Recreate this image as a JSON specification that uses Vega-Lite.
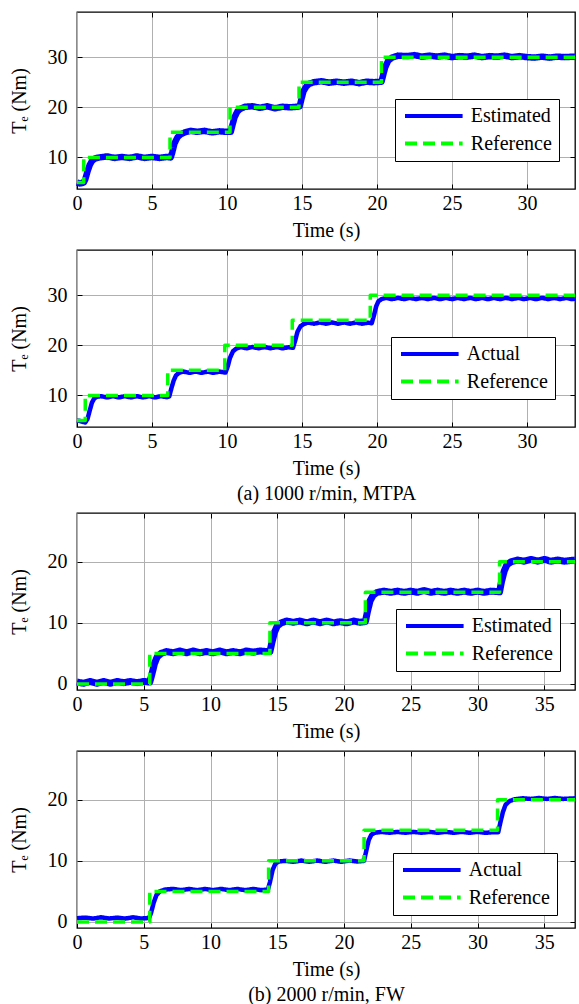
{
"$schema":"https://vega.github.io/schema/vega-lite/v6.json",
"background":"white",
"padding":{"left":8,"top":10,"right":2,"bottom":0},
"datasets":{
"p1":[
{"t":0,"v":5.0,"s":"Estimated"},{"t":0.2,"v":4.8,"s":"Estimated"},{"t":0.45,"v":5.0,"s":"Estimated"},{"t":0.55,"v":5.6,"s":"Estimated"},{"t":0.7,"v":7.2,"s":"Estimated"},{"t":0.85,"v":8.5,"s":"Estimated"},{"t":1.0,"v":9.3,"s":"Estimated"},{"t":1.2,"v":9.8,"s":"Estimated"},{"t":1.5,"v":10.0,"s":"Estimated"},{"t":2.0,"v":10.2,"s":"Estimated"},{"t":2.5,"v":9.9,"s":"Estimated"},{"t":3.0,"v":10.1,"s":"Estimated"},{"t":3.5,"v":9.9,"s":"Estimated"},{"t":4.0,"v":10.2,"s":"Estimated"},{"t":4.5,"v":9.9,"s":"Estimated"},{"t":5.0,"v":10.1,"s":"Estimated"},{"t":5.5,"v":9.9,"s":"Estimated"},{"t":6.0,"v":10.1,"s":"Estimated"},{"t":6.25,"v":10.0,"s":"Estimated"},{"t":6.35,"v":11.0,"s":"Estimated"},{"t":6.5,"v":12.8,"s":"Estimated"},{"t":6.7,"v":14.0,"s":"Estimated"},{"t":6.9,"v":14.6,"s":"Estimated"},{"t":7.2,"v":15.0,"s":"Estimated"},{"t":7.6,"v":15.3,"s":"Estimated"},{"t":8.0,"v":15.1,"s":"Estimated"},{"t":8.5,"v":15.3,"s":"Estimated"},{"t":9.0,"v":15.0,"s":"Estimated"},{"t":9.5,"v":15.2,"s":"Estimated"},{"t":10.0,"v":15.1,"s":"Estimated"},{"t":10.25,"v":15.1,"s":"Estimated"},{"t":10.35,"v":16.3,"s":"Estimated"},{"t":10.5,"v":18.0,"s":"Estimated"},{"t":10.7,"v":19.2,"s":"Estimated"},{"t":10.9,"v":19.7,"s":"Estimated"},{"t":11.2,"v":20.1,"s":"Estimated"},{"t":11.7,"v":20.2,"s":"Estimated"},{"t":12.2,"v":19.9,"s":"Estimated"},{"t":12.7,"v":20.2,"s":"Estimated"},{"t":13.2,"v":19.8,"s":"Estimated"},{"t":13.7,"v":20.1,"s":"Estimated"},{"t":14.2,"v":20.0,"s":"Estimated"},{"t":14.7,"v":20.1,"s":"Estimated"},{"t":14.85,"v":20.2,"s":"Estimated"},{"t":14.95,"v":21.5,"s":"Estimated"},{"t":15.1,"v":23.2,"s":"Estimated"},{"t":15.3,"v":24.2,"s":"Estimated"},{"t":15.5,"v":24.7,"s":"Estimated"},{"t":15.8,"v":25.0,"s":"Estimated"},{"t":16.3,"v":25.2,"s":"Estimated"},{"t":16.8,"v":24.9,"s":"Estimated"},{"t":17.3,"v":25.1,"s":"Estimated"},{"t":17.8,"v":24.9,"s":"Estimated"},{"t":18.3,"v":25.1,"s":"Estimated"},{"t":18.8,"v":24.8,"s":"Estimated"},{"t":19.3,"v":25.1,"s":"Estimated"},{"t":19.8,"v":25.0,"s":"Estimated"},{"t":20.3,"v":25.1,"s":"Estimated"},{"t":20.4,"v":26.3,"s":"Estimated"},{"t":20.55,"v":28.0,"s":"Estimated"},{"t":20.75,"v":29.3,"s":"Estimated"},{"t":21.0,"v":29.9,"s":"Estimated"},{"t":21.4,"v":30.3,"s":"Estimated"},{"t":22.0,"v":30.2,"s":"Estimated"},{"t":22.5,"v":30.4,"s":"Estimated"},{"t":23.0,"v":30.1,"s":"Estimated"},{"t":23.5,"v":30.3,"s":"Estimated"},{"t":24.0,"v":30.1,"s":"Estimated"},{"t":24.5,"v":30.3,"s":"Estimated"},{"t":25.0,"v":30.0,"s":"Estimated"},{"t":25.5,"v":30.2,"s":"Estimated"},{"t":26.0,"v":30.1,"s":"Estimated"},{"t":26.5,"v":30.3,"s":"Estimated"},{"t":27.0,"v":30.0,"s":"Estimated"},{"t":27.5,"v":30.2,"s":"Estimated"},{"t":28.0,"v":30.1,"s":"Estimated"},{"t":28.5,"v":30.3,"s":"Estimated"},{"t":29.0,"v":30.0,"s":"Estimated"},{"t":29.5,"v":30.2,"s":"Estimated"},{"t":30.0,"v":30.0,"s":"Estimated"},{"t":30.5,"v":29.9,"s":"Estimated"},{"t":31.0,"v":30.1,"s":"Estimated"},{"t":31.5,"v":29.9,"s":"Estimated"},{"t":32.0,"v":30.1,"s":"Estimated"},{"t":32.5,"v":30.0,"s":"Estimated"},{"t":33.2,"v":30.1,"s":"Estimated"},
{"t":0,"v":5,"s":"Reference"},{"t":0.45,"v":5,"s":"Reference"},{"t":0.45,"v":10,"s":"Reference"},{"t":6.2,"v":10,"s":"Reference"},{"t":6.2,"v":15,"s":"Reference"},{"t":10.2,"v":15,"s":"Reference"},{"t":10.2,"v":20,"s":"Reference"},{"t":14.8,"v":20,"s":"Reference"},{"t":14.8,"v":25,"s":"Reference"},{"t":20.3,"v":25,"s":"Reference"},{"t":20.3,"v":30,"s":"Reference"},{"t":33.2,"v":30,"s":"Reference"}
],
"p2":[
{"t":0,"v":5.0,"s":"Actual"},{"t":0.2,"v":4.9,"s":"Actual"},{"t":0.4,"v":4.7,"s":"Actual"},{"t":0.55,"v":4.6,"s":"Actual"},{"t":0.7,"v":5.3,"s":"Actual"},{"t":0.85,"v":7.0,"s":"Actual"},{"t":1.0,"v":8.6,"s":"Actual"},{"t":1.15,"v":9.4,"s":"Actual"},{"t":1.3,"v":9.7,"s":"Actual"},{"t":1.6,"v":9.85,"s":"Actual"},{"t":2.0,"v":9.6,"s":"Actual"},{"t":2.4,"v":9.85,"s":"Actual"},{"t":2.8,"v":9.6,"s":"Actual"},{"t":3.2,"v":9.85,"s":"Actual"},{"t":3.6,"v":9.6,"s":"Actual"},{"t":4.0,"v":9.85,"s":"Actual"},{"t":4.4,"v":9.6,"s":"Actual"},{"t":4.8,"v":9.85,"s":"Actual"},{"t":5.2,"v":9.6,"s":"Actual"},{"t":5.6,"v":9.85,"s":"Actual"},{"t":6.0,"v":9.65,"s":"Actual"},{"t":6.15,"v":9.8,"s":"Actual"},{"t":6.3,"v":11.5,"s":"Actual"},{"t":6.45,"v":13.0,"s":"Actual"},{"t":6.6,"v":14.0,"s":"Actual"},{"t":6.8,"v":14.5,"s":"Actual"},{"t":7.1,"v":14.75,"s":"Actual"},{"t":7.5,"v":14.5,"s":"Actual"},{"t":7.9,"v":14.75,"s":"Actual"},{"t":8.3,"v":14.5,"s":"Actual"},{"t":8.7,"v":14.75,"s":"Actual"},{"t":9.1,"v":14.5,"s":"Actual"},{"t":9.5,"v":14.75,"s":"Actual"},{"t":9.9,"v":14.55,"s":"Actual"},{"t":10.05,"v":15.8,"s":"Actual"},{"t":10.2,"v":17.5,"s":"Actual"},{"t":10.4,"v":18.8,"s":"Actual"},{"t":10.6,"v":19.3,"s":"Actual"},{"t":10.9,"v":19.65,"s":"Actual"},{"t":11.3,"v":19.4,"s":"Actual"},{"t":11.7,"v":19.65,"s":"Actual"},{"t":12.1,"v":19.4,"s":"Actual"},{"t":12.5,"v":19.65,"s":"Actual"},{"t":12.9,"v":19.4,"s":"Actual"},{"t":13.3,"v":19.65,"s":"Actual"},{"t":13.7,"v":19.4,"s":"Actual"},{"t":14.1,"v":19.6,"s":"Actual"},{"t":14.4,"v":19.5,"s":"Actual"},{"t":14.55,"v":21.0,"s":"Actual"},{"t":14.7,"v":22.7,"s":"Actual"},{"t":14.9,"v":23.8,"s":"Actual"},{"t":15.1,"v":24.2,"s":"Actual"},{"t":15.4,"v":24.55,"s":"Actual"},{"t":15.8,"v":24.3,"s":"Actual"},{"t":16.2,"v":24.55,"s":"Actual"},{"t":16.6,"v":24.3,"s":"Actual"},{"t":17.0,"v":24.55,"s":"Actual"},{"t":17.4,"v":24.3,"s":"Actual"},{"t":17.8,"v":24.55,"s":"Actual"},{"t":18.2,"v":24.3,"s":"Actual"},{"t":18.6,"v":24.55,"s":"Actual"},{"t":19.0,"v":24.3,"s":"Actual"},{"t":19.4,"v":24.5,"s":"Actual"},{"t":19.65,"v":24.4,"s":"Actual"},{"t":19.8,"v":26.0,"s":"Actual"},{"t":19.95,"v":27.8,"s":"Actual"},{"t":20.1,"v":28.8,"s":"Actual"},{"t":20.3,"v":29.2,"s":"Actual"},{"t":20.6,"v":29.45,"s":"Actual"},{"t":21.0,"v":29.2,"s":"Actual"},{"t":21.4,"v":29.45,"s":"Actual"},{"t":21.8,"v":29.2,"s":"Actual"},{"t":22.2,"v":29.45,"s":"Actual"},{"t":22.6,"v":29.2,"s":"Actual"},{"t":23.0,"v":29.45,"s":"Actual"},{"t":23.4,"v":29.2,"s":"Actual"},{"t":23.8,"v":29.45,"s":"Actual"},{"t":24.2,"v":29.2,"s":"Actual"},{"t":24.6,"v":29.45,"s":"Actual"},{"t":25.0,"v":29.2,"s":"Actual"},{"t":25.4,"v":29.45,"s":"Actual"},{"t":25.8,"v":29.2,"s":"Actual"},{"t":26.2,"v":29.45,"s":"Actual"},{"t":26.6,"v":29.2,"s":"Actual"},{"t":27.0,"v":29.45,"s":"Actual"},{"t":27.4,"v":29.2,"s":"Actual"},{"t":27.8,"v":29.45,"s":"Actual"},{"t":28.2,"v":29.2,"s":"Actual"},{"t":28.6,"v":29.45,"s":"Actual"},{"t":29.0,"v":29.2,"s":"Actual"},{"t":29.4,"v":29.45,"s":"Actual"},{"t":29.8,"v":29.2,"s":"Actual"},{"t":30.2,"v":29.45,"s":"Actual"},{"t":30.6,"v":29.2,"s":"Actual"},{"t":31.0,"v":29.45,"s":"Actual"},{"t":31.4,"v":29.2,"s":"Actual"},{"t":31.8,"v":29.45,"s":"Actual"},{"t":32.2,"v":29.2,"s":"Actual"},{"t":32.6,"v":29.45,"s":"Actual"},{"t":33.0,"v":29.2,"s":"Actual"},{"t":33.2,"v":29.3,"s":"Actual"},
{"t":0,"v":5,"s":"Reference"},{"t":0.55,"v":5,"s":"Reference"},{"t":0.55,"v":10,"s":"Reference"},{"t":6.05,"v":10,"s":"Reference"},{"t":6.05,"v":15,"s":"Reference"},{"t":9.85,"v":15,"s":"Reference"},{"t":9.85,"v":20,"s":"Reference"},{"t":14.35,"v":20,"s":"Reference"},{"t":14.35,"v":25,"s":"Reference"},{"t":19.55,"v":25,"s":"Reference"},{"t":19.55,"v":30,"s":"Reference"},{"t":33.2,"v":30,"s":"Reference"}
],
"p3":[
{"t":0,"v":0.3,"s":"Estimated"},{"t":0.5,"v":0.1,"s":"Estimated"},{"t":1.0,"v":0.4,"s":"Estimated"},{"t":1.5,"v":0.1,"s":"Estimated"},{"t":2.0,"v":0.4,"s":"Estimated"},{"t":2.5,"v":0.1,"s":"Estimated"},{"t":3.0,"v":0.4,"s":"Estimated"},{"t":3.5,"v":0.2,"s":"Estimated"},{"t":4.0,"v":0.4,"s":"Estimated"},{"t":4.5,"v":0.2,"s":"Estimated"},{"t":5.0,"v":0.4,"s":"Estimated"},{"t":5.45,"v":0.3,"s":"Estimated"},{"t":5.6,"v":1.5,"s":"Estimated"},{"t":5.8,"v":3.3,"s":"Estimated"},{"t":6.0,"v":4.4,"s":"Estimated"},{"t":6.3,"v":5.0,"s":"Estimated"},{"t":6.7,"v":5.3,"s":"Estimated"},{"t":7.2,"v":5.1,"s":"Estimated"},{"t":7.7,"v":5.4,"s":"Estimated"},{"t":8.2,"v":5.1,"s":"Estimated"},{"t":8.7,"v":5.4,"s":"Estimated"},{"t":9.2,"v":5.1,"s":"Estimated"},{"t":9.7,"v":5.3,"s":"Estimated"},{"t":10.2,"v":5.1,"s":"Estimated"},{"t":10.7,"v":5.4,"s":"Estimated"},{"t":11.2,"v":5.1,"s":"Estimated"},{"t":11.7,"v":5.3,"s":"Estimated"},{"t":12.2,"v":5.1,"s":"Estimated"},{"t":12.7,"v":5.4,"s":"Estimated"},{"t":13.2,"v":5.2,"s":"Estimated"},{"t":13.7,"v":5.4,"s":"Estimated"},{"t":14.2,"v":5.3,"s":"Estimated"},{"t":14.45,"v":5.3,"s":"Estimated"},{"t":14.6,"v":6.8,"s":"Estimated"},{"t":14.8,"v":8.5,"s":"Estimated"},{"t":15.0,"v":9.5,"s":"Estimated"},{"t":15.3,"v":10.0,"s":"Estimated"},{"t":15.7,"v":10.3,"s":"Estimated"},{"t":16.2,"v":10.1,"s":"Estimated"},{"t":16.7,"v":10.3,"s":"Estimated"},{"t":17.2,"v":10.0,"s":"Estimated"},{"t":17.7,"v":10.3,"s":"Estimated"},{"t":18.2,"v":10.0,"s":"Estimated"},{"t":18.7,"v":10.3,"s":"Estimated"},{"t":19.2,"v":10.0,"s":"Estimated"},{"t":19.7,"v":10.2,"s":"Estimated"},{"t":20.2,"v":10.0,"s":"Estimated"},{"t":20.7,"v":10.3,"s":"Estimated"},{"t":21.2,"v":10.1,"s":"Estimated"},{"t":21.6,"v":10.2,"s":"Estimated"},{"t":21.75,"v":11.8,"s":"Estimated"},{"t":21.95,"v":13.6,"s":"Estimated"},{"t":22.2,"v":14.6,"s":"Estimated"},{"t":22.5,"v":15.0,"s":"Estimated"},{"t":23.0,"v":15.2,"s":"Estimated"},{"t":23.5,"v":15.0,"s":"Estimated"},{"t":24.0,"v":15.2,"s":"Estimated"},{"t":24.5,"v":15.0,"s":"Estimated"},{"t":25.0,"v":15.2,"s":"Estimated"},{"t":25.5,"v":15.0,"s":"Estimated"},{"t":26.0,"v":15.3,"s":"Estimated"},{"t":26.5,"v":15.0,"s":"Estimated"},{"t":27.0,"v":15.2,"s":"Estimated"},{"t":27.5,"v":15.0,"s":"Estimated"},{"t":28.0,"v":15.2,"s":"Estimated"},{"t":28.5,"v":15.0,"s":"Estimated"},{"t":29.0,"v":15.2,"s":"Estimated"},{"t":29.5,"v":15.0,"s":"Estimated"},{"t":30.0,"v":15.2,"s":"Estimated"},{"t":30.5,"v":15.0,"s":"Estimated"},{"t":31.0,"v":15.2,"s":"Estimated"},{"t":31.65,"v":15.1,"s":"Estimated"},{"t":31.8,"v":16.8,"s":"Estimated"},{"t":32.0,"v":18.5,"s":"Estimated"},{"t":32.2,"v":19.5,"s":"Estimated"},{"t":32.5,"v":20.0,"s":"Estimated"},{"t":33.0,"v":20.3,"s":"Estimated"},{"t":33.5,"v":20.1,"s":"Estimated"},{"t":34.0,"v":20.4,"s":"Estimated"},{"t":34.5,"v":20.1,"s":"Estimated"},{"t":35.0,"v":20.4,"s":"Estimated"},{"t":35.5,"v":20.1,"s":"Estimated"},{"t":36.0,"v":20.3,"s":"Estimated"},{"t":36.5,"v":20.1,"s":"Estimated"},{"t":37.3,"v":20.3,"s":"Estimated"},
{"t":0,"v":0,"s":"Reference"},{"t":5.45,"v":0,"s":"Reference"},{"t":5.45,"v":5,"s":"Reference"},{"t":14.45,"v":5,"s":"Reference"},{"t":14.45,"v":10,"s":"Reference"},{"t":21.6,"v":10,"s":"Reference"},{"t":21.6,"v":15,"s":"Reference"},{"t":31.65,"v":15,"s":"Reference"},{"t":31.65,"v":20,"s":"Reference"},{"t":37.3,"v":20,"s":"Reference"}
],
"p4":[
{"t":0,"v":0.6,"s":"Actual"},{"t":0.6,"v":0.7,"s":"Actual"},{"t":1.2,"v":0.55,"s":"Actual"},{"t":1.8,"v":0.75,"s":"Actual"},{"t":2.4,"v":0.55,"s":"Actual"},{"t":3.0,"v":0.7,"s":"Actual"},{"t":3.6,"v":0.55,"s":"Actual"},{"t":4.2,"v":0.75,"s":"Actual"},{"t":4.8,"v":0.55,"s":"Actual"},{"t":5.4,"v":0.65,"s":"Actual"},{"t":5.55,"v":1.5,"s":"Actual"},{"t":5.75,"v":3.2,"s":"Actual"},{"t":5.95,"v":4.4,"s":"Actual"},{"t":6.2,"v":5.0,"s":"Actual"},{"t":6.6,"v":5.3,"s":"Actual"},{"t":7.2,"v":5.4,"s":"Actual"},{"t":7.8,"v":5.2,"s":"Actual"},{"t":8.4,"v":5.4,"s":"Actual"},{"t":9.0,"v":5.2,"s":"Actual"},{"t":9.6,"v":5.4,"s":"Actual"},{"t":10.2,"v":5.2,"s":"Actual"},{"t":10.8,"v":5.4,"s":"Actual"},{"t":11.4,"v":5.2,"s":"Actual"},{"t":12.0,"v":5.4,"s":"Actual"},{"t":12.6,"v":5.2,"s":"Actual"},{"t":13.2,"v":5.4,"s":"Actual"},{"t":13.8,"v":5.2,"s":"Actual"},{"t":14.3,"v":5.3,"s":"Actual"},{"t":14.45,"v":6.5,"s":"Actual"},{"t":14.65,"v":8.5,"s":"Actual"},{"t":14.85,"v":9.5,"s":"Actual"},{"t":15.1,"v":9.9,"s":"Actual"},{"t":15.6,"v":10.0,"s":"Actual"},{"t":16.2,"v":9.85,"s":"Actual"},{"t":16.8,"v":10.05,"s":"Actual"},{"t":17.4,"v":9.85,"s":"Actual"},{"t":18.0,"v":10.05,"s":"Actual"},{"t":18.6,"v":9.85,"s":"Actual"},{"t":19.2,"v":10.05,"s":"Actual"},{"t":19.8,"v":9.85,"s":"Actual"},{"t":20.4,"v":10.05,"s":"Actual"},{"t":21.0,"v":9.9,"s":"Actual"},{"t":21.5,"v":10.0,"s":"Actual"},{"t":21.65,"v":11.5,"s":"Actual"},{"t":21.85,"v":13.4,"s":"Actual"},{"t":22.05,"v":14.3,"s":"Actual"},{"t":22.3,"v":14.6,"s":"Actual"},{"t":22.8,"v":14.75,"s":"Actual"},{"t":23.4,"v":14.6,"s":"Actual"},{"t":24.0,"v":14.75,"s":"Actual"},{"t":24.6,"v":14.6,"s":"Actual"},{"t":25.2,"v":14.75,"s":"Actual"},{"t":25.8,"v":14.6,"s":"Actual"},{"t":26.4,"v":14.75,"s":"Actual"},{"t":27.0,"v":14.6,"s":"Actual"},{"t":27.6,"v":14.75,"s":"Actual"},{"t":28.2,"v":14.6,"s":"Actual"},{"t":28.8,"v":14.75,"s":"Actual"},{"t":29.4,"v":14.6,"s":"Actual"},{"t":30.0,"v":14.75,"s":"Actual"},{"t":30.6,"v":14.6,"s":"Actual"},{"t":31.2,"v":14.7,"s":"Actual"},{"t":31.55,"v":14.7,"s":"Actual"},{"t":31.7,"v":16.2,"s":"Actual"},{"t":31.9,"v":18.0,"s":"Actual"},{"t":32.1,"v":19.2,"s":"Actual"},{"t":32.4,"v":19.8,"s":"Actual"},{"t":32.8,"v":20.1,"s":"Actual"},{"t":33.4,"v":20.25,"s":"Actual"},{"t":34.0,"v":20.15,"s":"Actual"},{"t":34.6,"v":20.3,"s":"Actual"},{"t":35.2,"v":20.15,"s":"Actual"},{"t":35.8,"v":20.3,"s":"Actual"},{"t":36.4,"v":20.15,"s":"Actual"},{"t":37.3,"v":20.25,"s":"Actual"},
{"t":0,"v":0,"s":"Reference"},{"t":5.45,"v":0,"s":"Reference"},{"t":5.45,"v":5,"s":"Reference"},{"t":14.35,"v":5,"s":"Reference"},{"t":14.35,"v":10,"s":"Reference"},{"t":21.5,"v":10,"s":"Reference"},{"t":21.5,"v":15,"s":"Reference"},{"t":31.5,"v":15,"s":"Reference"},{"t":31.5,"v":20,"s":"Reference"},{"t":37.3,"v":20,"s":"Reference"}
]
},
"vconcat":[
{
"width":498,"height":177,"data":{"name":"p1"},
"layer":[
{"encoding":{
"x":{"field":"t","type":"quantitative","scale":{"domain":[0,33.2],"nice":false,"zero":false},"axis":{"values":[0,5,10,15,20,25,30],"title":"Time (s)"}},
"y":{"field":"v","type":"quantitative","scale":{"domain":[3.7,39],"nice":false,"zero":false},"axis":{"values":[10,20,30],"title":"Tₑ (Nm)"}},
"color":{"field":"s","type":"nominal","scale":{"domain":["Estimated","Reference"],"range":["#0000ff","#00ff00"]},"legend":{"title":null,"orient":"none","legendX":318,"legendY":87}},
"strokeDash":{"field":"s","type":"nominal","scale":{"domain":["Estimated","Reference"],"range":[[1,0],[12,6]]},"legend":{"title":null,"orient":"none","legendX":318,"legendY":87}}
},
"layer":[
{"transform":[{"filter":"datum.s==='Estimated'"}],"mark":{"type":"line","strokeWidth":6.5}},
{"transform":[{"filter":"datum.s==='Reference'"}],"mark":{"type":"line","strokeWidth":3.5}}
]},
{"mark":{"type":"point","opacity":0},"encoding":{
"x":{"field":"t","type":"quantitative","scale":{"domain":[0,33.2],"nice":false,"zero":false},"axis":{"orient":"top","values":[5,10,15,20,25,30],"labels":false,"title":null,"grid":false}},
"y":{"field":"v","type":"quantitative","scale":{"domain":[3.7,39],"nice":false,"zero":false},"axis":{"orient":"right","values":[10,20,30],"labels":false,"title":null,"grid":false}}
}}
],
"resolve":{"scale":{"x":"independent","y":"independent"}}
},
{
"width":498,"height":177,"data":{"name":"p2"},
"layer":[
{"encoding":{
"x":{"field":"t","type":"quantitative","scale":{"domain":[0,33.2],"nice":false,"zero":false},"axis":{"values":[0,5,10,15,20,25,30],"title":["Time (s)","(a) 1000 r/min, MTPA"]}},
"y":{"field":"v","type":"quantitative","scale":{"domain":[3.7,39],"nice":false,"zero":false},"axis":{"values":[10,20,30],"title":"Tₑ (Nm)"}},
"color":{"field":"s","type":"nominal","scale":{"domain":["Actual","Reference"],"range":["#0000ff","#00ff00"]},"legend":{"title":null,"orient":"none","legendX":314,"legendY":87}},
"strokeDash":{"field":"s","type":"nominal","scale":{"domain":["Actual","Reference"],"range":[[1,0],[12,6]]},"legend":{"title":null,"orient":"none","legendX":314,"legendY":87}}
},
"layer":[
{"transform":[{"filter":"datum.s==='Actual'"}],"mark":{"type":"line","strokeWidth":4.5}},
{"transform":[{"filter":"datum.s==='Reference'"}],"mark":{"type":"line","strokeWidth":3.5}}
]},
{"mark":{"type":"point","opacity":0},"encoding":{
"x":{"field":"t","type":"quantitative","scale":{"domain":[0,33.2],"nice":false,"zero":false},"axis":{"orient":"top","values":[5,10,15,20,25,30],"labels":false,"title":null,"grid":false}},
"y":{"field":"v","type":"quantitative","scale":{"domain":[3.7,39],"nice":false,"zero":false},"axis":{"orient":"right","values":[10,20,30],"labels":false,"title":null,"grid":false}}
}}
],
"resolve":{"scale":{"x":"independent","y":"independent"}}
},
{
"width":498,"height":177,"data":{"name":"p3"},
"layer":[
{"encoding":{
"x":{"field":"t","type":"quantitative","scale":{"domain":[0,37.3],"nice":false,"zero":false},"axis":{"values":[0,5,10,15,20,25,30,35],"title":"Time (s)"}},
"y":{"field":"v","type":"quantitative","scale":{"domain":[-1,28],"nice":false,"zero":false},"axis":{"values":[0,10,20],"title":"Tₑ (Nm)"}},
"color":{"field":"s","type":"nominal","scale":{"domain":["Estimated","Reference"],"range":["#0000ff","#00ff00"]},"legend":{"title":null,"orient":"none","legendX":319,"legendY":96}},
"strokeDash":{"field":"s","type":"nominal","scale":{"domain":["Estimated","Reference"],"range":[[1,0],[12,6]]},"legend":{"title":null,"orient":"none","legendX":319,"legendY":96}}
},
"layer":[
{"transform":[{"filter":"datum.s==='Estimated'"}],"mark":{"type":"line","strokeWidth":7}},
{"transform":[{"filter":"datum.s==='Reference'"}],"mark":{"type":"line","strokeWidth":3.5}}
]},
{"mark":{"type":"point","opacity":0},"encoding":{
"x":{"field":"t","type":"quantitative","scale":{"domain":[0,37.3],"nice":false,"zero":false},"axis":{"orient":"top","values":[5,10,15,20,25,30,35],"labels":false,"title":null,"grid":false}},
"y":{"field":"v","type":"quantitative","scale":{"domain":[-1,28],"nice":false,"zero":false},"axis":{"orient":"right","values":[0,10,20],"labels":false,"title":null,"grid":false}}
}}
],
"resolve":{"scale":{"x":"independent","y":"independent"}}
},
{
"width":498,"height":177,"data":{"name":"p4"},
"layer":[
{"encoding":{
"x":{"field":"t","type":"quantitative","scale":{"domain":[0,37.3],"nice":false,"zero":false},"axis":{"values":[0,5,10,15,20,25,30,35],"title":["Time (s)","(b) 2000 r/min, FW"]}},
"y":{"field":"v","type":"quantitative","scale":{"domain":[-1,28],"nice":false,"zero":false},"axis":{"values":[0,10,20],"title":"Tₑ (Nm)"}},
"color":{"field":"s","type":"nominal","scale":{"domain":["Actual","Reference"],"range":["#0000ff","#00ff00"]},"legend":{"title":null,"orient":"none","legendX":316,"legendY":102}},
"strokeDash":{"field":"s","type":"nominal","scale":{"domain":["Actual","Reference"],"range":[[1,0],[12,6]]},"legend":{"title":null,"orient":"none","legendX":316,"legendY":102}}
},
"layer":[
{"transform":[{"filter":"datum.s==='Actual'"}],"mark":{"type":"line","strokeWidth":4.5}},
{"transform":[{"filter":"datum.s==='Reference'"}],"mark":{"type":"line","strokeWidth":3.5}}
]},
{"mark":{"type":"point","opacity":0},"encoding":{
"x":{"field":"t","type":"quantitative","scale":{"domain":[0,37.3],"nice":false,"zero":false},"axis":{"orient":"top","values":[5,10,15,20,25,30,35],"labels":false,"title":null,"grid":false}},
"y":{"field":"v","type":"quantitative","scale":{"domain":[-1,28],"nice":false,"zero":false},"axis":{"orient":"right","values":[0,10,20],"labels":false,"title":null,"grid":false}}
}}
],
"resolve":{"scale":{"x":"independent","y":"independent"}}
}
],
"spacing":7,
"resolve":{"scale":{"color":"independent","strokeDash":"independent"}},
"config":{
"view":{"stroke":"#000000","strokeWidth":1.3},
"font":"Liberation Serif",
"line":{"strokeCap":"butt","strokeJoin":"round"},
"axis":{"labelFont":"Liberation Serif","labelFontSize":20,"labelColor":"#000000","titleFont":"Liberation Serif","titleFontSize":20,"titleFontWeight":"normal","titleColor":"#000000","titleLineHeight":25,"gridColor":"#b0b0b0","gridWidth":1,"gridOpacity":1,"domain":false,"tickColor":"#000000","tickWidth":1,"tickSize":-5,"labelOverlap":false,"labelFlush":false},
"axisX":{"labelPadding":9.5,"titlePadding":6.5},
"axisY":{"labelPadding":15,"titlePadding":18},
"legend":{"symbolType":"M-3.6,0L3.6,0","symbolSize":256,"symbolStrokeWidth":4,"symbolOffset":21.8,"labelOffset":27,"padding":7,"rowPadding":7.5,"strokeColor":"#000000","fillColor":"#ffffff","labelFont":"Liberation Serif","labelFontSize":20,"labelColor":"#000000","labelLimit":0}
}
}
